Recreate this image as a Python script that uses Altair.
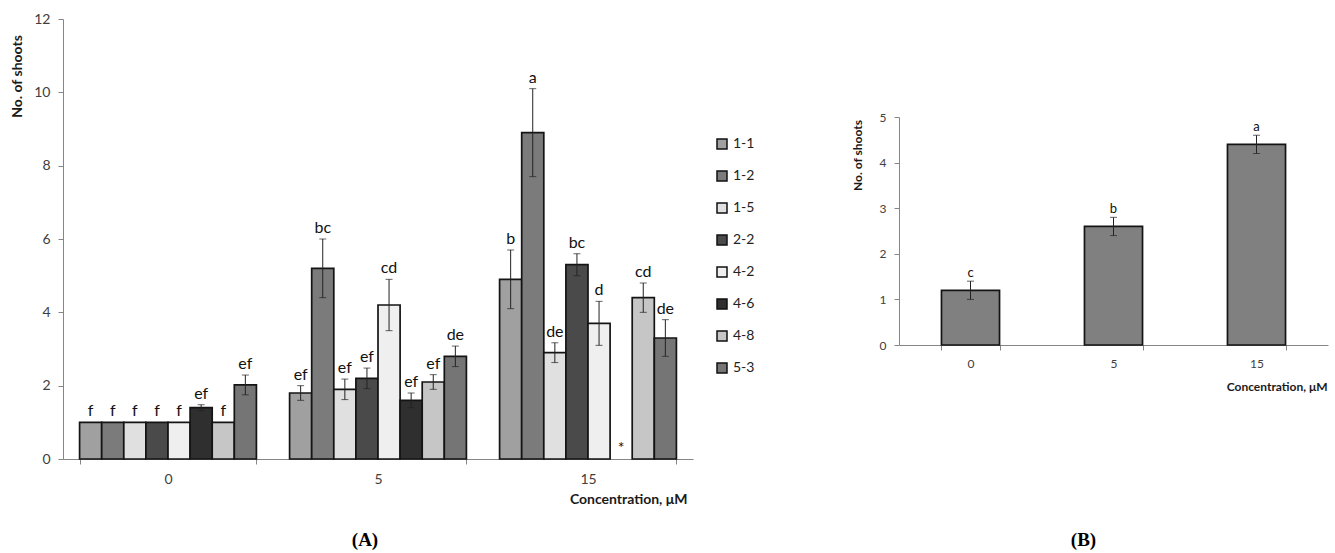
import altair as alt
import pandas as pd

# ---------------- Panel A data ----------------
concentrations = ["0", "5", "15"]
lines = ["1-1", "1-2", "1-5", "2-2", "4-2", "4-6", "4-8", "5-3"]

means_0 = [1.0, 1.0, 1.0, 1.0, 1.0, 1.4, 1.0, 2.02]
errs_0 = [0.0, 0.0, 0.0, 0.0, 0.0, 0.08, 0.0, 0.27]
letters_0 = ["f", "f", "f", "f", "f", "ef", "f", "ef"]

means_5 = [1.8, 5.2, 1.9, 2.2, 4.2, 1.6, 2.1, 2.8]
errs_5 = [0.2, 0.8, 0.28, 0.28, 0.7, 0.2, 0.2, 0.28]
letters_5 = ["ef", "bc", "ef", "ef", "cd", "ef", "ef", "de"]

means_15 = [4.9, 8.9, 2.9, 5.3, 3.7, None, 4.4, 3.3]
errs_15 = [0.8, 1.2, 0.27, 0.3, 0.6, None, 0.4, 0.5]
letters_15 = ["b", "a", "de", "bc", "d", "*", "cd", "de"]

fills = ["#a0a0a0", "#7b7b7b", "#e0e0e0", "#4a4a4a", "#efefef", "#2f2f2f", "#c6c6c6", "#757575"]

# ---------------- Panel B data ----------------
b_conc = ["0", "5", "15"]
b_means = [1.2, 2.6, 4.4]
b_errs = [0.2, 0.2, 0.2]
b_letters = ["c", "b", "a"]

FONT = "Lato"

rows = []
for conc, ms, es, ls in [("0", means_0, errs_0, letters_0),
                         ("5", means_5, errs_5, letters_5),
                         ("15", means_15, errs_15, letters_15)]:
    for ln, m, e, l in zip(lines, ms, es, ls):
        if m is None:
            rows.append(dict(conc=conc, line=ln, mean=None, low=None, high=None,
                             err=0.0, label=l, label_y=0.0))
        else:
            rows.append(dict(conc=conc, line=ln, mean=m, low=m - e, high=m + e,
                             err=e, label=l, label_y=m + e))
dfA = pd.DataFrame(rows)
barsA_df = dfA[dfA["mean"].notna()]
errA_df = dfA[(dfA["mean"].notna()) & (dfA["err"] > 0)]

xA = alt.X("conc:N", sort=concentrations,
           scale=alt.Scale(paddingInner=0.158, paddingOuter=0.079),
           axis=alt.Axis(title="Concentration, μM", labelAngle=0, tickBand="extent",
                         tickSize=5, labelFontSize=14, labelPadding=8,
                         titleFontSize=14, titleFontWeight="bold",
                         titleX=624, titleY=44, titleAlign="right",
                         titleBaseline="alphabetic", titleAnchor="end"))
xoffA = alt.XOffset("line:N", sort=lines, scale=alt.Scale(paddingInner=0, paddingOuter=0))
yscaleA = alt.Scale(domain=[0, 12])
yaxisA = alt.Axis(values=[0, 2, 4, 6, 8, 10, 12], title="No. of shoots", tickSize=5,
                  labelFontSize=14, labelPadding=8, titleFontSize=14,
                  titleFontWeight="bold", titleAngle=270, titleX=-46, titleY=57,
                  titleAlign="center", titleBaseline="middle", grid=False)

barsA = alt.Chart(barsA_df).mark_bar(stroke="#141414", strokeWidth=1.7, opacity=1).encode(
    x=xA, xOffset=xoffA,
    y=alt.Y("mean:Q", scale=yscaleA, axis=yaxisA),
    color=alt.Color("line:N", sort=lines, scale=alt.Scale(domain=lines, range=fills),
                    legend=alt.Legend(title=None, orient="none", legendX=652, legendY=118,
                                      symbolType="square", symbolSize=100,
                                      symbolStrokeColor="#111111", symbolStrokeWidth=1.5,
                                      symbolOpacity=1,
                                      labelFontSize=14, labelFont=FONT, labelColor="#222222",
                                      rowPadding=16, labelOffset=4, padding=0)),
)

ruleA = alt.Chart(errA_df).mark_rule(color="#222222", strokeWidth=1).encode(
    x=alt.X("conc:N", sort=concentrations), xOffset=xoffA,
    y=alt.Y("low:Q", scale=yscaleA), y2="high:Q")
capLoA = alt.Chart(errA_df).mark_tick(color="#222222", thickness=1, size=7, orient="horizontal").encode(
    x=alt.X("conc:N", sort=concentrations), xOffset=xoffA, y=alt.Y("low:Q", scale=yscaleA))
capHiA = alt.Chart(errA_df).mark_tick(color="#222222", thickness=1, size=7, orient="horizontal").encode(
    x=alt.X("conc:N", sort=concentrations), xOffset=xoffA, y=alt.Y("high:Q", scale=yscaleA))
textA = alt.Chart(dfA).mark_text(font=FONT, fontSize=16, dy=-6, baseline="alphabetic",
                                 color="#111111").encode(
    x=alt.X("conc:N", sort=concentrations), xOffset=xoffA,
    y=alt.Y("label_y:Q", scale=yscaleA), text="label:N")

panelA = alt.layer(barsA, ruleA, capLoA, capHiA, textA).properties(
    width=630, height=440,
    title=alt.TitleParams("(A)", orient="bottom", anchor="middle", frame="group",
                          dx=-13, offset=25, font="Liberation Serif", fontSize=19,
                          fontWeight="bold", color="black"))

# ---------------- Panel B ----------------
dfB = pd.DataFrame(dict(conc=b_conc, mean=b_means, err=b_errs, label=b_letters))
dfB["low"] = dfB["mean"] - dfB["err"]
dfB["high"] = dfB["mean"] + dfB["err"]

xB = alt.X("conc:N", sort=b_conc,
           scale=alt.Scale(paddingInner=0.594, paddingOuter=0.297),
           axis=alt.Axis(title="Concentration, μM", labelAngle=0, tickBand="extent",
                         tickSize=5, labelFontSize=12, labelPadding=8,
                         titleFontSize=12, titleFontWeight="bold",
                         titleX=428, titleY=45, titleAlign="right",
                         titleBaseline="alphabetic", titleAnchor="end"))
yscaleB = alt.Scale(domain=[0, 5])
yaxisB = alt.Axis(values=[0, 1, 2, 3, 4, 5], title="No. of shoots", tickSize=5,
                  labelFontSize=12, labelPadding=8, titleFontSize=12,
                  titleFontWeight="bold", titleAngle=270, titleX=-42, titleY=38,
                  titleAlign="center", titleBaseline="middle", grid=False)

barsB = alt.Chart(dfB).mark_bar(color="#808080", stroke="#141414", strokeWidth=1.7).encode(
    x=xB, y=alt.Y("mean:Q", scale=yscaleB, axis=yaxisB))
ruleB = alt.Chart(dfB).mark_rule(color="#222222", strokeWidth=1).encode(
    x=alt.X("conc:N", sort=b_conc), y=alt.Y("low:Q", scale=yscaleB), y2="high:Q")
capLoB = alt.Chart(dfB).mark_tick(color="#222222", thickness=1, size=7, orient="horizontal").encode(
    x=alt.X("conc:N", sort=b_conc), y=alt.Y("low:Q", scale=yscaleB))
capHiB = alt.Chart(dfB).mark_tick(color="#222222", thickness=1, size=7, orient="horizontal").encode(
    x=alt.X("conc:N", sort=b_conc), y=alt.Y("high:Q", scale=yscaleB))
textB = alt.Chart(dfB).mark_text(font=FONT, fontSize=13, dy=-4, baseline="alphabetic",
                                 color="#111111").encode(
    x=alt.X("conc:N", sort=b_conc), y=alt.Y("high:Q", scale=yscaleB), text="label:N")

panelB = alt.layer(barsB, ruleB, capLoB, capHiB, textB).properties(
    width=429, height=228,
    title=alt.TitleParams("(B)", orient="bottom", anchor="middle", frame="group",
                          dx=-30, offset=139, font="Liberation Serif", fontSize=19,
                          fontWeight="bold", color="black"))

spacer = alt.Chart(pd.DataFrame({"v": [0]})).mark_point(opacity=0).encode(
    x=alt.value(0), y=alt.value(0)).properties(width=429, height=98)

right = alt.vconcat(spacer, panelB, spacing=0, bounds="flush")

chart = alt.hconcat(panelA, right, spacing=206, bounds="flush").properties(
    padding={"left": 10, "top": 12, "right": 5, "bottom": 5}
).configure_view(stroke=None).configure_axis(
    labelFont=FONT, titleFont=FONT, domainColor="#868686", tickColor="#868686",
    labelColor="#404040", titleColor="#1a1a1a", grid=False
).configure_concat(spacing=0)

chart.save("out.html", embed_options={"renderer": "svg", "actions": False})
